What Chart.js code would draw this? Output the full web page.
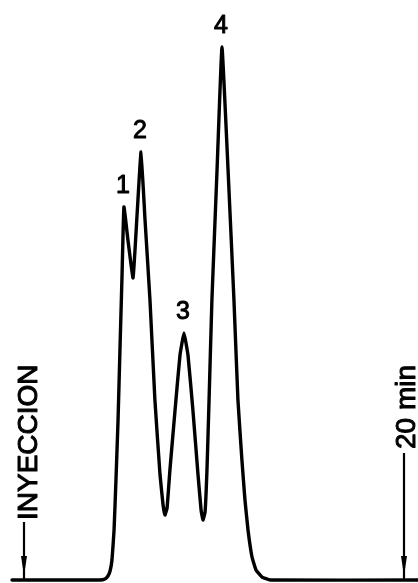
<!DOCTYPE html>
<html>
<head>
<meta charset="utf-8">
<style>
  html, body { margin: 0; padding: 0; background: #fff; }
  canvas { display: block; }
</style>
</head>
<body>
<canvas id="c" width="418" height="583"></canvas>
<script src="https://cdn.jsdelivr.net/npm/chart.js@4/dist/chart.umd.min.js"></script>
<script>
// Retention time (min) and detector signal (% of the tallest peak)
const timeMin = [
  -0.63, 4.00, 4.26, 4.42, 4.53, 4.63, 4.74, 4.84, 4.95, 5.05, 5.16, 5.26,
  5.47, 5.74, 5.95, 6.16, 6.37, 6.63, 6.89, 7.16, 7.32, 7.42, 7.53, 7.68,
  7.95, 8.21, 8.42, 8.63, 8.89, 9.16, 9.32, 9.42, 9.53, 9.63, 9.74, 9.89,
  10.16, 10.42, 10.74, 11.05, 11.26, 11.47, 11.63, 11.79, 12.00, 12.21,
  12.53, 12.95, 20.74
];
const signal = [
  0, 0, 0.19, 0.75, 1.69, 3.75, 9.38, 18.76, 30.02, 43.15, 57.22, 70.0,
  63.79, 56.66, 68.48, 80.30, 67.54, 52.53, 33.77, 19.70, 14.07, 12.20, 13.51, 20.64,
  31.89, 42.21, 46.34, 42.21, 31.89, 19.70, 13.13, 11.26, 12.76, 20.64, 33.77, 52.53,
  76.92, 100, 76.92, 52.53, 33.77, 22.51, 15.01, 9.38, 4.32, 1.88,
  0.56, 0, 0
];

// Peak numbers and the retention time at which each peak tops out
const peakLabels = ['1', '2', '3', '4'];
const peakTimes = [5.26, 6.16, 8.42, 10.42];

// Injection mark and the 20-minute mark
const markerTimes = [0, 20];
const markerLabels = ['INYECCION', '20 min'];

// filled text with a thin outline so the lettering reads as pen-drawn
function inkText(ctx, text, x, y) {
  ctx.fillText(text, x, y);
  ctx.strokeText(text, x, y);
}

const annotations = {
  id: 'annotations',
  afterDatasetsDraw(chart) {
    const ctx = chart.ctx;
    const xs = chart.scales.x, ys = chart.scales.y;
    const base = ys.getPixelForValue(0);
    ctx.save();
    ctx.fillStyle = '#000';
    ctx.strokeStyle = '#000';
    ctx.lineJoin = 'round';

    // peak numbers above each maximum
    ctx.font = '25px "Liberation Sans", Arial, sans-serif';
    ctx.textAlign = 'center';
    ctx.textBaseline = 'alphabetic';
    ctx.lineWidth = 1;
    peakLabels.forEach((lab, i) => {
      const t = peakTimes[i];
      const h = signal[timeMin.indexOf(t)];
      const px = xs.getPixelForValue(t);
      const py = ys.getPixelForValue(h);
      inkText(ctx, lab, px - 1, py - 14);
    });

    // time markers: vertical arrows with rotated captions
    ctx.font = '28px "Liberation Sans", Arial, sans-serif';
    ctx.textAlign = 'left';
    const textOffsets = [[13, 520], [11, 449]];
    const arrowTops = [522, 453];
    markerTimes.forEach((t, i) => {
      const px = xs.getPixelForValue(t);
      ctx.lineWidth = 2.2;
      ctx.beginPath();
      ctx.moveTo(px, arrowTops[i]);
      ctx.lineTo(px, base);
      ctx.stroke();
      ctx.beginPath();
      ctx.moveTo(px - 3, base - 24);
      ctx.lineTo(px + 3, base - 24);
      ctx.lineTo(px, base - 4);
      ctx.closePath();
      ctx.fill();

      ctx.save();
      ctx.translate(px + textOffsets[i][0], textOffsets[i][1]);
      ctx.rotate(-Math.PI / 2);
      ctx.lineWidth = 1;
      inkText(ctx, markerLabels[i], 0, 0);
      ctx.restore();
    });
    ctx.restore();
  }
};

new Chart(document.getElementById('c'), {
  type: 'line',
  data: {
    datasets: [{
      data: timeMin.map((t, i) => ({ x: t, y: signal[i] })),
      borderColor: '#000',
      borderWidth: 3.4,
      borderJoinStyle: 'round',
      borderCapStyle: 'round',
      pointRadius: 0,
      tension: 0.1,
      fill: false,
      clip: false
    }]
  },
  options: {
    responsive: false,
    animation: false,
    devicePixelRatio: 1,
    layout: { padding: 0 },
    plugins: { legend: { display: false }, tooltip: { enabled: false } },
    scales: {
      x: { type: 'linear', min: -1.2632, max: 20.7368, display: false },
      y: { min: -0.563, max: 108.82, display: false }
    }
  },
  plugins: [annotations]
});
</script>
</body>
</html>
